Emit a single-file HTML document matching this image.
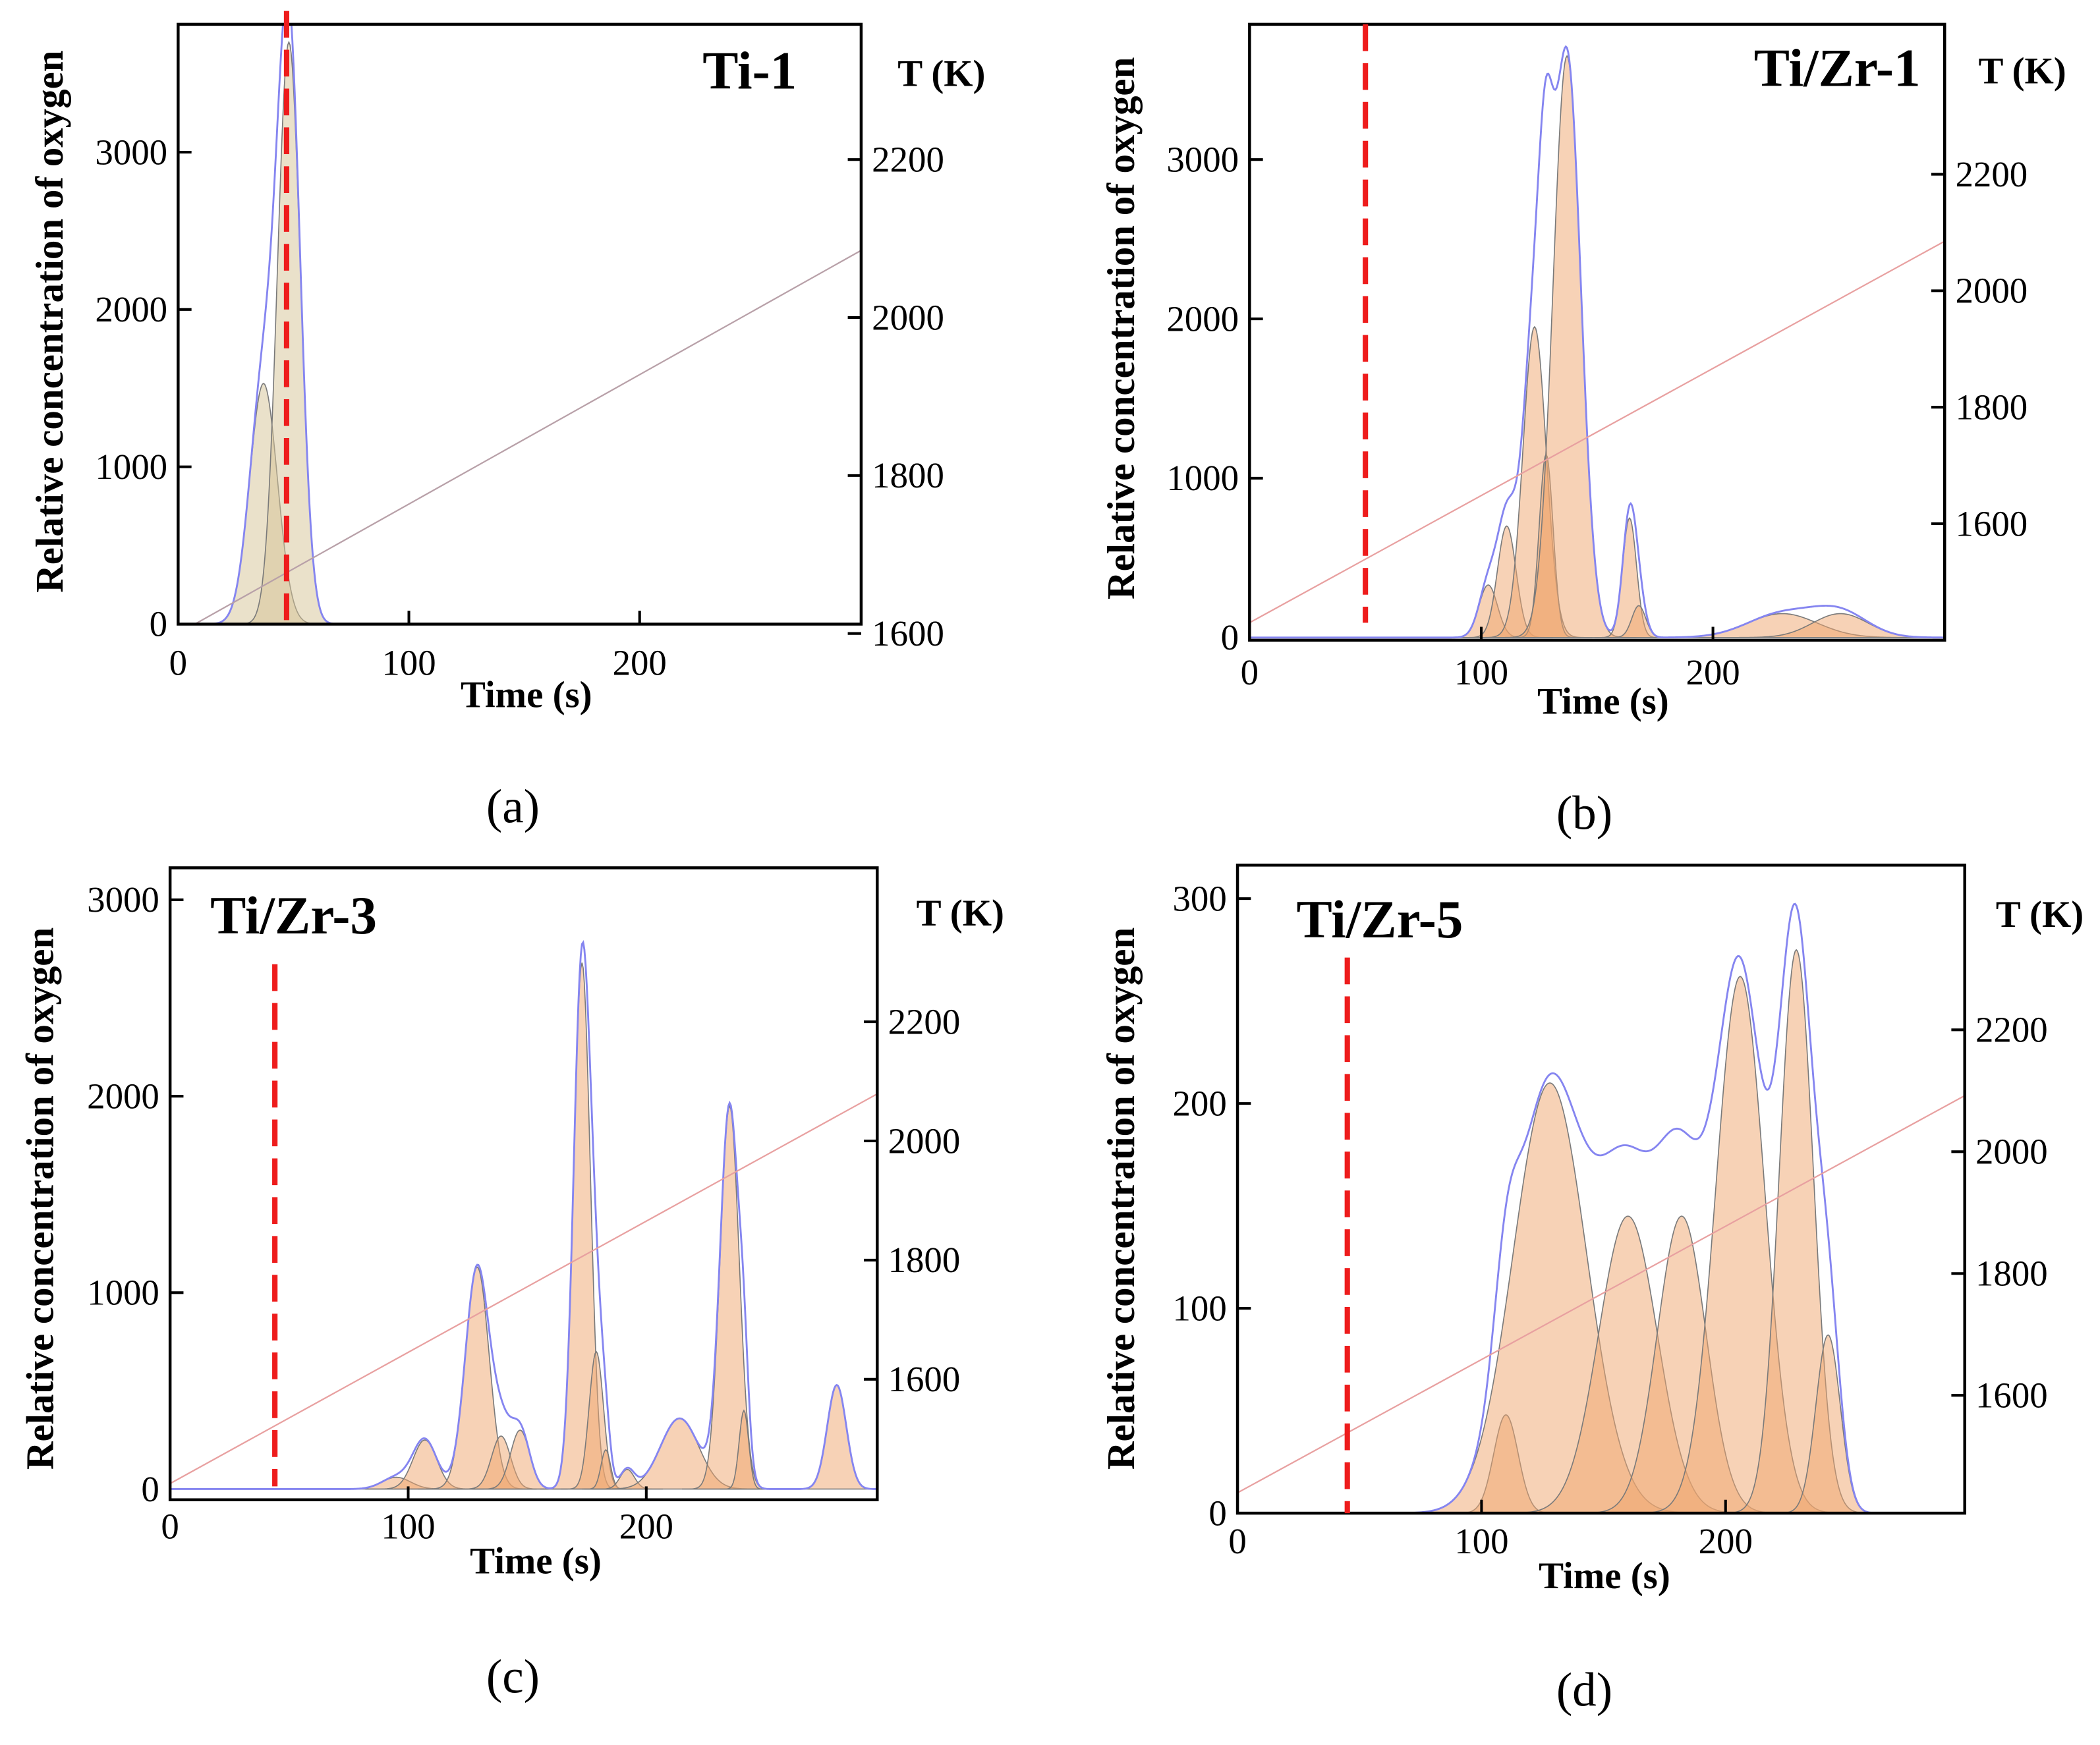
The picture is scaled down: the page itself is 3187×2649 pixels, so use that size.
<!DOCTYPE html>
<html><head><meta charset="utf-8"><style>
html,body{margin:0;padding:0;background:#fff}
svg{display:block}
text{font-family:"Liberation Serif",serif;fill:#000}
</style></head><body>
<svg id="fig" width="3187" height="2649" viewBox="0 0 1568 1303" xmlns="http://www.w3.org/2000/svg"></svg>
<script>
// ---- data ----
const aCenters=[37,48];
const aHeights=[1530,3700];
const aSigmas=[6,5];
const aTemp=[1600,2085];
const aYTicks=[0,1000,2000,3000];
const aTTicks=[1600,1800,2000,2200];
const xTicks=[0,100,200];

const bCenters=[103,111,123,128,137,164,168,230,255];
const bHeights=[330,700,1950,1150,3650,750,200,150,150];
const bSigmas=[4,4,5,3,6,3,3,15,12];
const bTemp=[1430,2085];
const bYTicks=[0,1000,2000,3000];
const bTTicks=[1600,1800,2000,2200];

const cCenters=[95,107,129,139,147,173,179,183,192,214,235,241,280];
const cHeights=[60,250,1130,270,300,2680,700,200,100,360,1950,400,530];
const cSigmas=[6,5,5,4,4,3.5,3,2,3,8,4,2,4];
const cTemp=[1425,2079];
const cYTicks=[0,1000,2000,3000];
const cTTicks=[1600,1800,2000,2200];

const dCenters=[110,128,160,182,206,229,242];
const dHeights=[48,210,145,145,262,275,87];
const dSigmas=[5,15,12,10,10,7,5];
const dTemp=[1440,2092];
const dYTicks=[0,100,200,300];
const dTTicks=[1600,1800,2000,2200];

const NS="http://www.w3.org/2000/svg";
const svg=document.getElementById('fig');
function mk(tag,attrs,parent){const e=document.createElementNS(NS,tag);for(const k in attrs)e.setAttribute(k,attrs[k]);(parent||svg).appendChild(e);return e;}

const panels=[
 {id:'a',L:133,R:643,T:18,B:466,xMax:296,y0:466,yStep:117.5,yUnit:1000,t0:1600,tY0:473,tStep:118,centers:aCenters,heights:aHeights,sigmas:aSigmas,temp:aTemp,yt:aYTicks,tt:aTTicks,
  fill:'rgba(214,196,150,0.5)',dash:47,dashTop:8,title:'Ti-1',titleX:595,titleY:66,titleAnchor:'end',tkX:703,tkY:64,ytX:40,ytY:240,timeX:393,timeY:528,capX:383,capY:614,xLabY:504},
 {id:'b',L:933,R:1452,T:18,B:478,xMax:300,y0:476,yStep:119,yUnit:1000,t0:1600,tY0:391,tStep:87,centers:bCenters,heights:bHeights,sigmas:bSigmas,temp:bTemp,yt:bYTicks,tt:bTTicks,
  fill:'rgba(240,165,110,0.5)',dash:50,dashTop:18,dashBot:465,title:'Ti/Zr-1',titleX:1434,titleY:64,titleAnchor:'end',tkX:1510,tkY:62,ytX:840,ytY:245,timeX:1197,timeY:533,capX:1183,capY:619,xLabY:511},
 {id:'c',L:127,R:655,T:648,B:1120,xMax:297,y0:1112,yStep:146.7,yUnit:1000,t0:1600,tY0:1030,tStep:89,centers:cCenters,heights:cHeights,sigmas:cSigmas,temp:cTemp,yt:cYTicks,tt:cTTicks,
  fill:'rgba(240,165,110,0.5)',dash:44,dashTop:720,dashBot:1110,title:'Ti/Zr-3',titleX:157,titleY:697,titleAnchor:'start',tkX:717,tkY:691,ytX:33,ytY:895,timeX:400,timeY:1175,capX:383,capY:1264,xLabY:1149},
 {id:'d',L:924,R:1467,T:646,B:1130,xMax:298,y0:1130,yStep:153,yUnit:100,t0:1600,tY0:1042,tStep:91,centers:dCenters,heights:dHeights,sigmas:dSigmas,temp:dTemp,yt:dYTicks,tt:dTTicks,
  fill:'rgba(240,165,110,0.5)',dash:45,dashTop:715,dashBot:1130,title:'Ti/Zr-5',titleX:968,titleY:700,titleAnchor:'start',tkX:1523,tkY:692,ytX:840,ytY:895,timeX:1198,timeY:1186,capX:1183,capY:1274,xLabY:1160}
];

panels.forEach(p=>{
 const g=mk('g',{});
 
 
 const xs=t=>p.L+(t/p.xMax)*(p.R-p.L);
 const ys=v=>p.y0-(v/p.yUnit)*p.yStep;
 const ts=T=>p.tY0-((T-p.t0)/200)*p.tStep;
 const clip=mk('clipPath',{id:'clip'+p.id},g);
 mk('rect',{x:p.L,y:p.T,width:p.R-p.L,height:p.B-p.T},clip);
 const plot=mk('g',{'clip-path':'url(#clip'+p.id+')'},g);
 p.centers.forEach((c,i)=>{
  let d='M'+xs(Math.max(0,c-5*p.sigmas[i]))+','+ys(0);
  for(let t=Math.max(0,c-5*p.sigmas[i]);t<=Math.min(p.xMax,c+5*p.sigmas[i]);t+=0.5){
   d+=' L'+xs(t).toFixed(2)+','+ys(p.heights[i]*Math.exp(-((t-c)**2)/(2*p.sigmas[i]**2))).toFixed(2);
  }
  d+=' L'+xs(Math.min(p.xMax,c+5*p.sigmas[i]))+','+ys(0)+'Z';
  const e=mk('path',{d:d,fill:p.fill,stroke:'#7a7a7a','stroke-width':0.8},plot);
  
  
 });
 let ed='';
 for(let t=0;t<=p.xMax;t+=0.5){
  let s=0;p.centers.forEach((c,i)=>{s+=p.heights[i]*Math.exp(-((t-c)**2)/(2*p.sigmas[i]**2));});
  ed+=(t===0?'M':' L')+xs(t).toFixed(2)+','+ys(s).toFixed(2);
 }
 const env=mk('path',{d:ed,fill:'none',stroke:'#8585f0','stroke-width':1.4},plot);
 
 
 const tl=mk('line',{x1:xs(0),y1:ts(p.temp[0]),x2:xs(p.xMax),y2:ts(p.temp[1]),stroke:p.id==='a'?'#b8a0a8':'#e8a0a0','stroke-width':1.1},plot);
 
 
 const fr=mk('rect',{x:p.L,y:p.T,width:p.R-p.L,height:p.B-p.T,fill:'none',stroke:'#000','stroke-width':2.2},g);
 
 
 const dl=mk('line',{x1:xs(p.dash),y1:p.dashTop,x2:xs(p.dash),y2:p.dashBot||p.B,stroke:'#ee1c1c','stroke-width':4,'stroke-dasharray':'20,9'},g);
 
 
 p.yt.forEach(v=>{
  const y=ys(v);
  if(v>0)mk('line',{x1:p.L,y1:y,x2:p.L+10,y2:y,stroke:'#000','stroke-width':2},g);
  const t=mk('text',{x:p.L-8,y:y+9,'text-anchor':'end','font-size':27},g);
  t.textContent=v;
  
  
 });
 xTicks.forEach(v=>{
  const x=xs(v);
  if(v>0)mk('line',{x1:x,y1:p.B,x2:x,y2:p.B-10,stroke:'#000','stroke-width':2},g);
  const t=mk('text',{x:x,y:p.xLabY,'text-anchor':'middle','font-size':27},g);
  t.textContent=v;
  
  
 });
 p.tt.forEach(v=>{
  const y=ts(v);
  mk('line',{x1:p.R-10,y1:y,x2:p.R,y2:y,stroke:'#000','stroke-width':2},g);
  const t=mk('text',{x:p.R+8,y:y+9,'text-anchor':'start','font-size':27},g);
  t.textContent=v;
  
  
 });
 const ti=mk('text',{x:p.titleX,y:p.titleY,'text-anchor':p.titleAnchor,'font-size':40,'font-weight':'bold'},g);
 ti.textContent=p.title;
 
 
 const tk=mk('text',{x:p.tkX,y:p.tkY,'text-anchor':'middle','font-size':28,'font-weight':'bold'},g);
 tk.textContent='T (K)';
 
 
 const yt=mk('text',{x:p.ytX,y:p.ytY,'text-anchor':'middle','font-size':29,'font-weight':'bold',transform:'rotate(-90 '+p.ytX+' '+p.ytY+')','dominant-baseline':'middle'},g);
 yt.textContent='Relative concentration of oxygen';
 
 
 const tm=mk('text',{x:p.timeX,y:p.timeY,'text-anchor':'middle','font-size':28,'font-weight':'bold','xml:space':'preserve'},g);
 tm.textContent='Time  (s)';
 
 
 const cp=mk('text',{x:p.capX,y:p.capY,'text-anchor':'middle','font-size':36},g);
 cp.textContent='('+p.id+')';
 
 
});
</script>
</body></html>
